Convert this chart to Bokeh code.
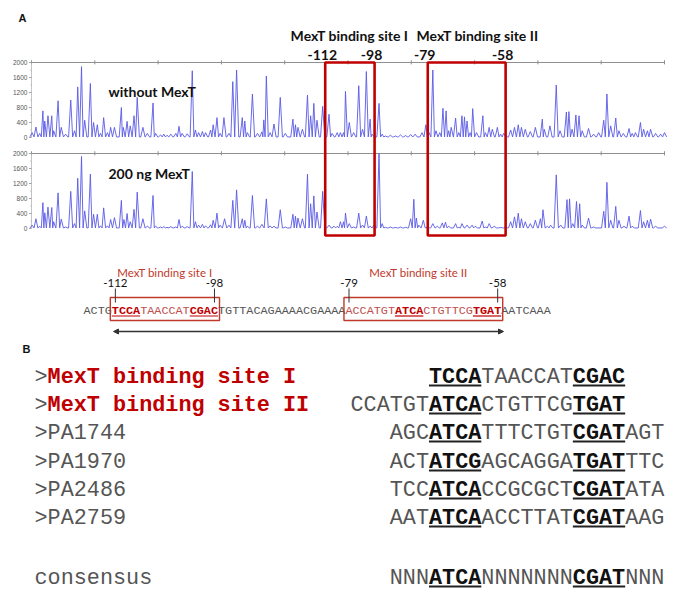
from bokeh.plotting import figure
from bokeh.models import Range1d, Arrow, NormalHead
from bokeh.core.properties import value
from bokeh.embed import file_html
from bokeh.resources import INLINE

# ---------------- data ----------------
# electropherogram peaks: (position on the 0..1000 trace scale, signal height)
without_mext = [
    (1, 130), (7, 280), (13, 110), (18, 710), (21, 440), (26, 580), (32, 580), (35, 180),
    (42, 980), (47, 270), (54, 90), (62, 1000), (68, 180), (73, 1350), (79, 1890), (84, 460),
    (93, 1440), (98, 400), (104, 340), (109, 110), (114, 530), (120, 130), (125, 270), (131, 270),
    (142, 800), (145, 270), (151, 430), (156, 310), (162, 580), (167, 1070), (176, 270), (183, 110),
    (192, 920), (196, 110), (204, 70), (209, 90), (214, 60), (220, 90), (228, 110), (233, 300),
    (238, 110), (246, 100), (254, 1780), (259, 200), (264, 130), (270, 160), (275, 130), (283, 200),
    (287, 340), (293, 530), (298, 110), (304, 530), (312, 110), (318, 1490), (324, 1800), (333, 530),
    (337, 440), (341, 130), (349, 1160), (357, 110), (364, 150), (367, 470), (371, 1640), (377, 130),
    (383, 360), (393, 1070), (401, 110), (413, 490), (417, 340), (421, 270), (428, 220), (436, 1130),
    (441, 580), (446, 910), (451, 460), (460, 830), (470, 620), (475, 110), (483, 130), (488, 130),
    (493, 130), (496, 1230), (502, 400), (509, 130), (517, 1380), (523, 220), (529, 1760), (535, 490),
    (538, 90), (549, 910), (554, 90), (559, 40), (567, 60), (575, 40), (583, 70), (591, 50),
    (599, 80), (606, 90), (617, 130), (623, 340), (628, 130), (634, 1800), (639, 180), (645, 130),
    (650, 780), (655, 710), (659, 180), (663, 270), (670, 520), (675, 130), (680, 580), (684, 550),
    (688, 440), (693, 130), (697, 770), (703, 130), (713, 580), (717, 130), (723, 270), (728, 220),
    (736, 270), (741, 90), (746, 110), (757, 200), (763, 270), (769, 340), (774, 270), (780, 220),
    (788, 160), (796, 270), (807, 490), (810, 220), (819, 310), (829, 1400), (835, 180), (845, 680),
    (849, 690), (854, 220), (860, 600), (865, 580), (870, 180), (880, 240), (888, 90), (896, 130),
    (904, 460), (909, 1160), (915, 310), (923, 520), (928, 180), (935, 110), (944, 240), (949, 110),
    (954, 130), (962, 400), (967, 220), (973, 180), (978, 220), (986, 110), (994, 90), (1000, 130),
]
with_200ng_mext = [
    (1, 90), (7, 260), (13, 60), (18, 690), (21, 420), (26, 570), (32, 560), (35, 180),
    (42, 950), (47, 250), (54, 40), (62, 990), (68, 130), (73, 1340), (79, 1920), (84, 470),
    (93, 1450), (98, 380), (104, 380), (109, 70), (114, 550), (120, 70), (125, 240), (131, 290),
    (142, 750), (146, 240), (151, 400), (156, 180), (162, 510), (167, 970), (176, 260), (183, 60),
    (192, 880), (196, 60), (204, 40), (209, 50), (214, 30), (220, 50), (228, 40), (233, 240),
    (238, 60), (246, 50), (254, 1520), (259, 180), (264, 90), (270, 110), (275, 70), (283, 100),
    (287, 220), (293, 410), (298, 90), (305, 260), (312, 90), (318, 750), (324, 1030), (333, 260),
    (337, 220), (341, 60), (349, 880), (357, 60), (364, 110), (371, 790), (377, 70), (383, 60),
    (393, 500), (401, 40), (413, 380), (417, 330), (421, 280), (428, 260), (436, 1450), (441, 660),
    (446, 870), (451, 440), (460, 990), (470, 90), (478, 60), (483, 60), (488, 180), (493, 180),
    (496, 410), (502, 130), (509, 40), (517, 410), (523, 90), (529, 330), (535, 60), (541, 90),
    (549, 2000), (554, 130), (559, 30), (567, 40), (575, 30), (583, 40), (591, 30), (599, 260),
    (604, 780), (608, 280), (612, 90), (619, 220), (625, 30), (634, 130), (641, 60), (649, 150),
    (654, 170), (659, 60), (670, 130), (675, 30), (680, 130), (688, 90), (696, 90), (701, 60),
    (712, 200), (717, 40), (723, 130), (731, 60), (741, 30), (749, 30), (757, 180), (763, 310),
    (769, 410), (774, 260), (780, 180), (788, 130), (796, 220), (804, 260), (808, 500), (815, 60),
    (820, 90), (829, 1430), (836, 90), (846, 770), (850, 790), (855, 130), (861, 720), (866, 660),
    (870, 90), (880, 280), (888, 40), (904, 460), (909, 1230), (915, 220), (923, 590), (928, 220),
    (936, 60), (944, 330), (949, 60), (962, 480), (967, 180), (973, 220), (978, 250), (986, 60),
    (1000, 60),
]
trace_labels = ["without MexT", "200 ng MexT"]
y_ticks = [0, 400, 800, 1200, 1600, 2000]
y_minor = [200, 600, 1000, 1400, 1800]
x_ticks = [0, 100, 200, 300, 400, 500, 600, 700, 800, 900, 1000]

site_names = ["MexT binding site I", "MexT binding site II"]
site_edges = [464, 542, 626, 749]          # trace-scale edges of the two protected regions
site_edge_labels = ["-112", "-98", "-79", "-58"]

# promoter sequence: (text, style)  style: g=grey flank, r=red in site, R=red bold motif
promoter = [("ACTG", "g"), ("TCCA", "R"), ("TAACCAT", "r"), ("CGAC", "R"),
            ("TGTTACAGAAAACGAAAA", "g"), ("ACCATGT", "r"), ("ATCA", "R"),
            ("CTGTTCG", "r"), ("TGAT", "R"), ("AATCAAA", "g")]
promoter_sites = [(4, 18, "-112", "-98"), (37, 58, "-79", "-58")]   # column spans

# panel B alignment
row_names = [(">", "MexT binding site I"), (">", "MexT binding site II"),
             (">PA1744", ""), (">PA1970", ""), (">PA2486", ""), (">PA2759", ""),
             ("consensus", "")]
row_start_col = [6, 0, 3, 3, 3, 3, 3]
row_parts = [
    [("TCCA", 1), ("TAACCAT", 0), ("CGAC", 1)],
    [("CCATGT", 0), ("ATCA", 1), ("CTGTTCG", 0), ("TGAT", 1)],
    [("AGC", 0), ("ATCA", 1), ("TTTCTGT", 0), ("CGAT", 1), ("AGT", 0)],
    [("ACT", 0), ("ATCG", 1), ("AGCAGGA", 0), ("TGAT", 1), ("TTC", 0)],
    [("TCC", 0), ("ATCA", 1), ("CCGCGCT", 0), ("CGAT", 1), ("ATA", 0)],
    [("AAT", 0), ("ATCA", 1), ("ACCTTAT", 0), ("CGAT", 1), ("AAG", 0)],
    [("NNN", 0), ("ATCA", 1), ("NNNNNNN", 0), ("CGAT", 1), ("NNN", 0)],
]

# ---------------- styling / layout ----------------
RED = "#C00000"
RED_LIGHT = "#C0504D"
BLUE = "#5a5ae6"
GREY_AX = "#8f8f8f"
TXT = "#555555"
SANS = value("Lato")
MONO = value("Liberation Mono")

W, H = 680, 598
p = figure(width=W, height=H, x_range=Range1d(0, W), y_range=Range1d(H, 0),
           output_backend="svg", toolbar_location=None, min_border=0,
           x_axis_type=None, y_axis_type=None)
p.grid.visible = False
p.outline_line_color = None
p.background_fill_color = "white"

# trace scales (pixel anchors)
U0, U1000 = 31, 664
su = 1000.0 / (U1000 - U0)
p.extra_x_ranges = {"tx": Range1d(start=(0 - U0) * su, end=(W - U0) * su)}


def yrange(px0, px2000):
    s = 2000.0 / (px0 - px2000)
    return Range1d(start=(px0 - H) * s, end=(px0 - 0) * s)


p.extra_y_ranges = {"t1": yrange(137, 62), "t2": yrange(228, 153)}


def trace_xy(peaks, base=15, w=3.4):
    xs, ys = [], []
    n = len(peaks)
    for i, (pos, h) in enumerate(peaks):
        lg = (pos - peaks[i - 1][0]) / 2.0 if i > 0 else w
        rg = (peaks[i + 1][0] - pos) / 2.0 if i < n - 1 else w
        xs += [pos - min(w, lg), pos, pos + min(w, rg)]
        ys += [base, h, base]
    return xs, ys


for rn, peaks in (("t1", without_mext), ("t2", with_200ng_mext)):
    # frame lines / ticks
    p.line([0, 1000], [2000, 2000], x_range_name="tx", y_range_name=rn,
           line_color=GREY_AX, line_width=1.2)
    p.segment(x0=x_ticks, x1=x_ticks, y0=[1950] * len(x_ticks), y1=[2060] * len(x_ticks),
              x_range_name="tx", y_range_name=rn, line_color=GREY_AX, line_width=1)
    p.line([0, 0], [0, 2000], x_range_name="tx", y_range_name=rn,
           line_color="#b5b5b5", line_width=0.8)
    p.segment(x0=[-4] * len(y_ticks), x1=[0] * len(y_ticks), y0=y_ticks, y1=y_ticks,
              x_range_name="tx", y_range_name=rn, line_color=GREY_AX, line_width=0.8)
    p.segment(x0=[-2] * len(y_minor), x1=[0] * len(y_minor), y0=y_minor, y1=y_minor,
              x_range_name="tx", y_range_name=rn, line_color="#b5b5b5", line_width=0.8)
    p.text(x=[-6.5] * len(y_ticks), y=y_ticks, text=[str(t) for t in y_ticks],
           x_range_name="tx", y_range_name=rn, text_align="right", text_baseline="middle",
           text_font=value("Liberation Sans"), text_font_size="6.5px", text_color="#555555")
    xs, ys = trace_xy(peaks)
    p.line(xs, ys, x_range_name="tx", y_range_name=rn, line_color=BLUE, line_width=1,
           line_alpha=0.9)

# protected regions
p.quad(left=[site_edges[0], site_edges[2]], right=[site_edges[1], site_edges[3]],
       top=[62, 62], bottom=[235, 235], x_range_name="tx", fill_alpha=0,
       line_color=RED, line_width=2.6)
p.text(x=site_edges, y=[54] * 4, text=site_edge_labels, x_range_name="tx", x_offset=-3,
       text_align="center", text_baseline="middle", text_font=SANS, text_font_style="bold",
       text_font_size="14px", text_color="#111111")
p.text(x=[349, 477], y=[35, 35], text=site_names, text_align="center",
       text_baseline="middle", text_font=SANS, text_font_style="bold",
       text_font_size="14px", text_color="#111111")
p.text(x=[108, 108], y=[91, 173], text=trace_labels, text_align="left",
       text_baseline="middle", text_font=SANS, text_font_style="bold",
       text_font_size="14px", text_color="#111111")

# panel letters
p.text(x=[18, 22], y=[17, 348], text=["A", "B"], text_align="left", text_baseline="middle",
       text_font=value("Liberation Sans"), text_font_style="bold", text_font_size="11px",
       text_color="#111111")

# promoter sequence line
SX0, SCW, SY = 83, 7.08, 310
col = 0
for seg, st in promoter:
    x = SX0 + col * SCW
    color = TXT if st == "g" else (RED_LIGHT if st == "r" else RED)
    p.text(x=[x], y=[SY], text=[seg], text_align="left", text_baseline="middle",
           text_font=MONO, text_font_size="11.8px", text_color=color,
           text_font_style="bold" if st == "R" else "normal")
    if st == "R":
        p.segment(x0=[x], x1=[x + len(seg) * SCW], y0=[SY + 5.5], y1=[SY + 5.5],
                  line_color=RED, line_width=1.2)
    col += len(seg)

for (c0, c1, l0, l1), name, ny in zip(promoter_sites, site_names, [272, 272]):
    left = SX0 + c0 * SCW - 1.5
    right = SX0 + (c1 + 1) * SCW + 1.5
    p.quad(left=[left], right=[right], top=[297], bottom=[320], fill_alpha=0,
           line_color="#C0392B", line_width=1.4)
    tx0 = SX0 + (c0 + 0.5) * SCW
    tx1 = SX0 + (c1 + 0.5) * SCW
    p.segment(x0=[tx0, tx1], x1=[tx0, tx1], y0=[288, 288], y1=[302, 302],
              line_color="#333333", line_width=1)
    p.text(x=[tx0, tx1], y=[282, 282], text=[l0, l1], text_align="center",
           text_baseline="middle", text_font=SANS, text_font_size="11.5px",
           text_color="#111111")
    p.text(x=[(tx0 + tx1) / 2 + (0 if c0 < 20 else -5)], y=[ny], text=[name],
           text_align="center", text_baseline="middle", text_font=SANS,
           text_font_size="11.5px", text_color="#C0392B")

p.add_layout(Arrow(start=NormalHead(size=5, fill_color="#333333", line_color="#333333"),
                   end=NormalHead(size=5, fill_color="#333333", line_color="#333333"),
                   x_start=113, y_start=331, x_end=503, y_end=331,
                   line_color="#333333", line_width=1.4))

# panel B alignment
BX_L, BX0, BCW = 34, 350, 13.08
row_y = [377, 405, 433, 462, 490, 518, 578]
for (pre, name), c0, parts, y in zip(row_names, row_start_col, row_parts, row_y):
    p.text(x=[BX_L], y=[y], text=[pre], text_align="left", text_baseline="middle",
           text_font=MONO, text_font_size="21.8px", text_color=TXT)
    if name:
        p.text(x=[BX_L + len(pre) * BCW], y=[y], text=[name], text_align="left",
               text_baseline="middle", text_font=MONO, text_font_size="21.8px",
               text_font_style="bold", text_color=RED)
    c = c0
    for seg, bold in parts:
        x = BX0 + c * BCW
        p.text(x=[x], y=[y], text=[seg], text_align="left", text_baseline="middle",
               text_font=MONO, text_font_size="21.8px",
               text_font_style="bold" if bold else "normal",
               text_color="#111111" if bold else TXT)
        if bold:
            p.segment(x0=[x], x1=[x + len(seg) * BCW], y0=[y + 8], y1=[y + 8],
                      line_color="#222222", line_width=1.8)
        c += len(seg)

open("out.html", "w").write(file_html(p, INLINE))
